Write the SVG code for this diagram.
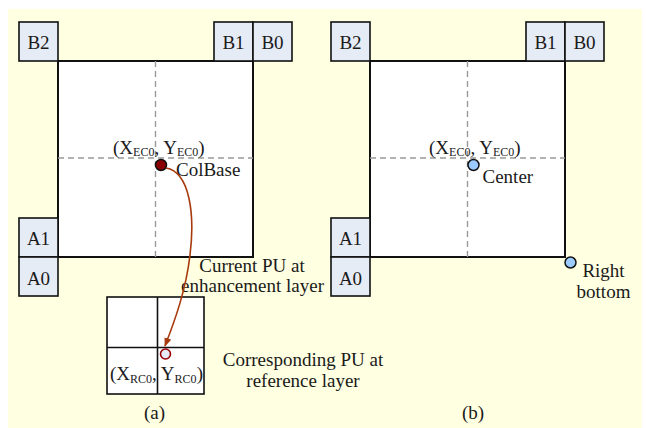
<svg xmlns="http://www.w3.org/2000/svg" width="646" height="428" viewBox="0 0 646 428">
<style>
text{font-family:"Liberation Serif","Times New Roman",serif;font-size:19px;fill:#1a1a1a}
.nb{fill:#e6ecf6;stroke:#111;stroke-width:1.6}
.pu{fill:#fff;stroke:#111;stroke-width:2}
.dash{stroke:#999;stroke-width:1.4;stroke-dasharray:6 4;fill:none}
.lbl{text-anchor:middle}
.sub{font-size:12px}
.bdot{fill:#9ccbff;stroke:#111;stroke-width:1.5}
</style>
<defs>
<marker id="ah" viewBox="0 0 10 10" refX="9" refY="5" markerWidth="9" markerHeight="9" markerUnits="userSpaceOnUse" orient="auto">
<path d="M0,1 L10,5 L0,9 Z" fill="#a63a0c"/>
</marker>
</defs>
<rect x="8" y="9" width="634" height="419" fill="#ffffe1"/>

<g id="panel-a">
<g id="cur-pu-a"><rect class="pu" x="58" y="61" width="195" height="196"/>
<path class="dash" d="M155.5,61 V257 M58,158 H253"/></g>
<g id="a-B2"><rect class="nb" x="19" y="22" width="39" height="39"/><text class="lbl" x="38.5" y="49">B2</text></g>
<g id="a-B1"><rect class="nb" x="214" y="22" width="39" height="39"/><text class="lbl" x="233.5" y="49">B1</text></g>
<g id="a-B0"><rect class="nb" x="253" y="22" width="39" height="39"/><text class="lbl" x="272.5" y="49">B0</text></g>
<g id="a-A1"><rect class="nb" x="19" y="218" width="39" height="39"/><text class="lbl" x="38.5" y="245">A1</text></g>
<g id="a-A0"><rect class="nb" x="19" y="257" width="39" height="39"/><text class="lbl" x="38.5" y="284.5">A0</text></g>
<g id="colbase"><circle cx="161" cy="165" r="5.5" fill="#8a0000" stroke="#111" stroke-width="1.5"/>
<text x="113" y="153.5">(X<tspan class="sub" dy="2.5">EC0</tspan><tspan dy="-2.5">, Y</tspan><tspan class="sub" dy="2.5">EC0</tspan><tspan dy="-2.5">)</tspan></text>
<text x="176" y="176">ColBase</text></g>
<g id="ref-pu"><rect x="107" y="297" width="97" height="97" fill="#fff" stroke="#111" stroke-width="1.6"/>
<path d="M157.5,297 V394 M107,347.5 H204" stroke="#111" stroke-width="1.6"/>
<circle cx="165.5" cy="354" r="5" fill="#e6ecf6" stroke="#990000" stroke-width="1.6"/>
<text x="110" y="380">(X<tspan class="sub" dy="3">RC0</tspan><tspan dy="-3">, Y</tspan><tspan class="sub" dy="3">RC0</tspan><tspan dy="-3">)</tspan></text></g>
<g id="labels-a">
<text class="lbl" x="252" y="272">Current PU at</text>
<text class="lbl" x="252.5" y="292">enhancement layer</text>
<text class="lbl" x="303" y="366">Corresponding PU at</text>
<text class="lbl" x="303" y="387">reference layer</text>
<text class="lbl" x="154.5" y="419">(a)</text></g>
</g>

<g id="connectors">
<path d="M166,168 C190,172 195,215 190,255 C186,290 175,320 165,346" fill="none" stroke="#a63a0c" stroke-width="1.6" marker-end="url(#ah)"/>
</g>

<g id="panel-b">
<g id="cur-pu-b"><rect class="pu" x="370" y="61" width="195" height="196"/>
<path class="dash" d="M467.5,61 V257 M370,158 H565"/></g>
<g id="b-B2"><rect class="nb" x="331" y="22" width="39" height="39"/><text class="lbl" x="350.5" y="49">B2</text></g>
<g id="b-B1"><rect class="nb" x="526" y="22" width="39" height="39"/><text class="lbl" x="545.5" y="49">B1</text></g>
<g id="b-B0"><rect class="nb" x="565" y="22" width="39" height="39"/><text class="lbl" x="584.5" y="49">B0</text></g>
<g id="b-A1"><rect class="nb" x="331" y="218" width="39" height="39"/><text class="lbl" x="350.5" y="245">A1</text></g>
<g id="b-A0"><rect class="nb" x="331" y="257" width="39" height="39"/><text class="lbl" x="350.5" y="284.5">A0</text></g>
<g id="center"><circle class="bdot" cx="473.5" cy="165" r="5.5"/>
<text x="429" y="153.5">(X<tspan class="sub" dy="2.5">EC0</tspan><tspan dy="-2.5">, Y</tspan><tspan class="sub" dy="2.5">EC0</tspan><tspan dy="-2.5">)</tspan></text>
<text x="482.5" y="183">Center</text></g>
<g id="rightbottom"><circle class="bdot" cx="570.5" cy="262.5" r="5.5"/>
<text class="lbl" x="603.5" y="277">Right</text>
<text class="lbl" x="603.5" y="298">bottom</text></g>
<text class="lbl" x="473" y="419">(b)</text>
</g>
</svg>
